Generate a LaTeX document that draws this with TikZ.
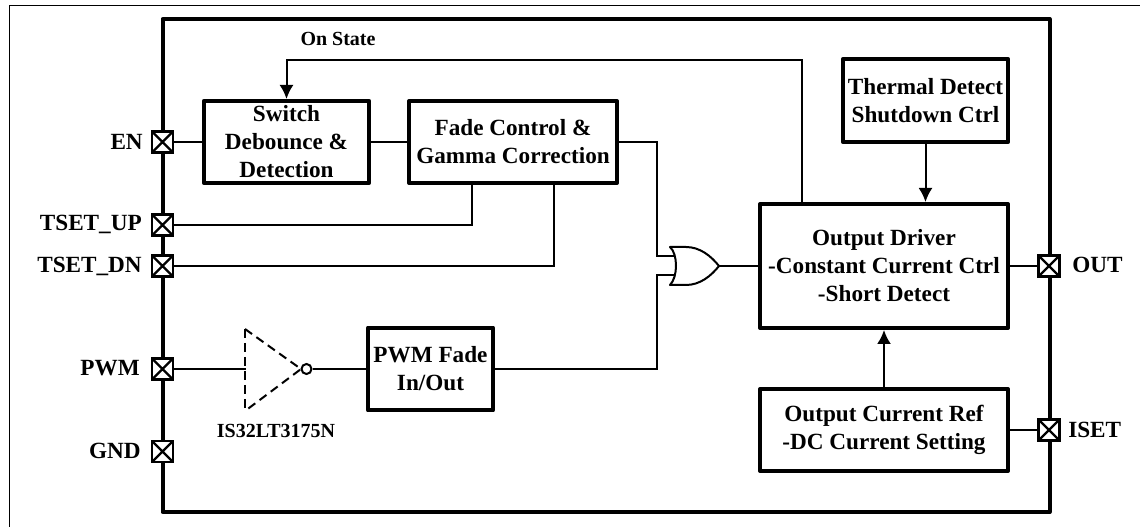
\documentclass[tikz,border=0pt]{standalone}
\usepackage{fontspec}
\usetikzlibrary{arrows.meta}
\setmainfont{Liberation Serif}
\begin{document}
\begin{tikzpicture}[x=0.75pt,y=-0.75pt,
  chip/.style={draw,line width=3pt,line join=round},
  blockbox/.style={draw,line width=3pt,line join=round,inner sep=0pt,align=center,font=\fontsize{17.4}{21}\selectfont\bfseries},
  wire/.style={line width=1.5pt},
  pad/.style={draw,line width=1.8pt,fill=white,minimum size=15.5pt,inner sep=0pt,path picture={\draw[line width=1.7pt] (path picture bounding box.south west)--(path picture bounding box.north east) (path picture bounding box.north west)--(path picture bounding box.south east);}},
  plabel/.style={font=\fontsize{17.4}{20}\selectfont\bfseries,inner sep=0pt},
  tip/.style={-{Latex[length=10.5pt,width=10.5pt]}}]
\useasboundingbox (0,0) rectangle (1140,527);
\draw[line width=0.9pt] (1140,5.5) -- (9.5,5.5) -- (9.5,527);
\draw[chip] (162.5,19) rectangle (1049.5,512);
\node[pad] (en) at (162.5,142) {};
\node[pad] (up) at (162.5,225) {};
\node[pad] (dn) at (162.5,266) {};
\node[pad] (pwm) at (162.5,369) {};
\node[pad] (gnd) at (162.5,451.5) {};
\node[pad] (out) at (1049,266) {};
\node[pad] (iset) at (1049,430) {};
\node[plabel,anchor=east] at (143,142) {EN};
\node[plabel,anchor=east] at (142,224.5) {TSET\_UP};
\node[plabel,anchor=east] at (142,266) {TSET\_DN};
\node[plabel,anchor=east] at (140,368) {PWM};
\node[plabel,anchor=east] at (141,451) {GND};
\node[plabel,anchor=west] at (1072,265) {OUT};
\node[plabel,anchor=west] at (1068,430) {ISET};
\node[blockbox,minimum width=124pt,minimum height=61.5pt] (sw) at (286.5,142) {Switch\\Debounce \&\\Detection};
\node[blockbox,minimum width=156pt,minimum height=61.5pt] (fade) at (513,142) {Fade Control \&\\Gamma Correction};
\node[blockbox,minimum width=94pt,minimum height=62pt] (fadepwm) at (430.5,369) {PWM Fade\\In/Out};
\node[blockbox,minimum width=186pt,minimum height=93pt] (drv) at (884,266) {Output Driver\\-Constant Current Ctrl\\-Short Detect};
\node[blockbox,minimum width=124pt,minimum height=62pt] (th) at (925.5,100.5) {Thermal Detect\\Shutdown Ctrl};
\node[blockbox,minimum width=186pt,minimum height=61.5pt] (ref) at (884,430) {Output Current Ref\\-DC Current Setting};
\node[font=\fontsize{15}{17}\selectfont\bfseries,inner sep=0pt] at (338,39) {On State};
\node[font=\fontsize{15}{17}\selectfont\bfseries,inner sep=0pt] (ic) at (276,431) {IS32LT3175N};
% inverter
\coordinate (ia) at (245.5,369);
\draw[line width=1.5pt,dash pattern=on 6.5pt off 4pt] (245,329) -- (245,411);
\draw[line width=1.5pt,dash pattern=on 6.5pt off 4pt] (245,329) -- (301,369) -- (245,411);
\node[draw,circle,line width=1.5pt,minimum size=7.5pt,inner sep=0pt] (bub) at (306.5,369) {};
% or gate
\coordinate (g1) at (675,256.5);
\coordinate (g2) at (675,275);
\coordinate (go) at (719,266);
\draw[line width=1.5pt,line join=round] (670,247) .. controls (678,254) and (678,277) .. (670,285) -- (686,285) .. controls (700,285) and (711,276) .. (719,266) .. controls (711,256) and (700,247) .. (686,247) -- cycle;
% wires
\coordinate (upj) at (471.7,225);
\coordinate (dnj) at (554,266);
\draw[wire] (en.east) -- (sw.west);
\draw[wire] (sw.east) -- (fade.west);
\draw[wire] (up.east) -- (upj) -- (upj |- fade.south);
\draw[wire] (dn.east) -- (dnj) -- (dnj |- fade.south);
\draw[wire] (fade.east) -- (657,142) -- (657,256.5) -- (g1);
\draw[wire] (fadepwm.east) -- (657,369) -- (657,275) -- (g2);
\draw[wire] (go) -- (drv.west);
\draw[wire] (pwm.east) -- (ia);
\draw[wire] (bub.east) -- (fadepwm.west);
\draw[wire] (drv.east) -- (out.west);
\draw[wire] (ref.east) -- (iset.west);
\coordinate (fbx) at (802,60);
\draw[wire,tip] (fbx |- drv.north) -- (fbx) -- (sw.north |- fbx) -- (sw.north);
\draw[wire,tip] (th.south) -- (th.south |- drv.north);
\draw[wire,tip] (ref.north) -- (drv.south);
\end{tikzpicture}
\end{document}
